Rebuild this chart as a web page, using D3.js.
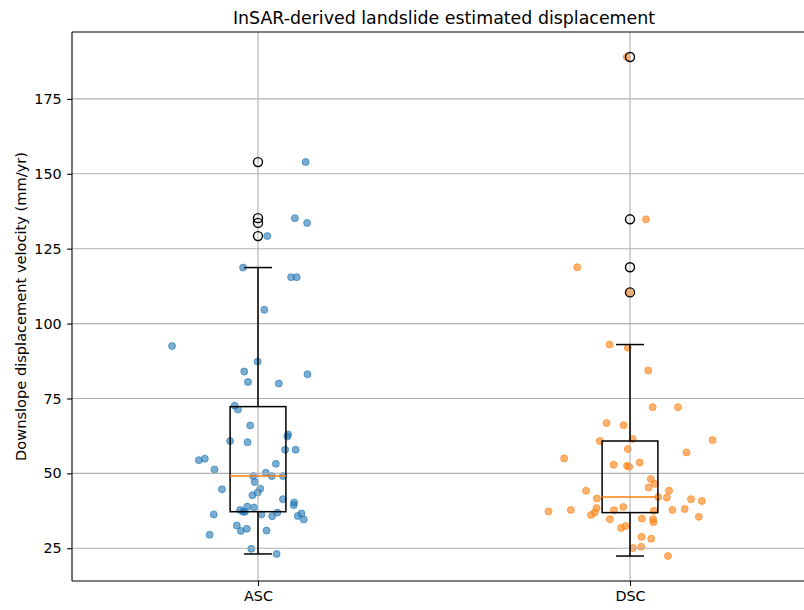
<!DOCTYPE html>
<html><head><meta charset="utf-8">
<script src="https://cdn.jsdelivr.net/npm/d3@7"></script>
<style>body{margin:0;background:#fff}svg{display:block;font-family:"DejaVu Sans",sans-serif}</style>
</head><body><svg id="c" width="804" height="610"></svg>
<script>
const categories = ["ASC", "DSC"];
const seriesColors = ["#1f77b4", "#ff7f0e"];
// values in mm/yr and horizontal jitter offsets (category units)
const ascValues = [92.5,87.3,84.0,83.1,80.5,80.0,72.6,71.3,66.0,63.0,62.3,60.8,60.4,57.9,57.9,54.4,54.9,53.2,51.3,50.2,49.1,49.1,49.1,47.1,44.9,43.6,44.7,42.7,41.4,40.3,39.4,38.9,38.6,37.8,37.2,37.2,36.3,36.9,35.7,36.3,35.8,36.6,34.6,32.6,30.8,31.5,30.9,29.5,24.8,23.1,153.9,135.2,133.6,129.2,118.7,115.5,115.5,104.6];
const ascJitter = [-0.231,-0.001,-0.037,0.133,-0.027,0.056,-0.063,-0.054,-0.021,0.081,0.079,-0.075,-0.028,0.073,0.101,-0.159,-0.143,0.048,-0.117,0.021,-0.013,0.037,0.067,-0.009,0.006,-0.001,-0.097,-0.015,0.067,0.097,0.096,-0.029,-0.011,-0.048,-0.040,-0.035,0.009,0.052,0.038,-0.119,0.107,0.117,0.123,-0.057,-0.046,-0.030,0.023,-0.130,-0.018,0.050,0.128,0.099,0.132,0.025,-0.040,0.089,0.104,0.017];
const dscValues = [189.0,134.8,118.8,110.4,93.0,91.9,84.3,72.1,72.1,66.8,66.1,60.8,61.5,61.1,58.1,55.0,57.0,52.9,52.5,52.2,53.6,48.1,46.5,45.3,44.2,44.2,41.6,42.1,41.9,41.4,40.8,38.4,37.3,37.8,36.9,36.1,37.7,38.8,37.5,37.8,38.1,35.5,34.7,34.9,34.7,33.7,31.8,32.4,28.8,28.2,25.1,25.5,22.4];
const dscJitter = [-0.009,0.043,-0.142,-0.002,-0.055,-0.006,0.049,0.061,0.129,-0.063,-0.017,-0.081,0.007,0.222,-0.006,-0.177,0.152,-0.044,-0.008,-0.002,0.026,0.056,0.067,0.050,0.105,-0.118,-0.089,0.076,0.099,0.164,0.193,-0.090,-0.219,-0.159,-0.095,-0.105,-0.043,-0.018,0.064,0.114,0.147,0.185,-0.054,0.032,0.062,0.063,-0.024,-0.012,0.031,0.057,0.008,0.030,0.102];
const yTicks = [25, 50, 75, 100, 125, 150, 175];
const titleText = "InSAR-derived landslide estimated displacement";
const yLabel = "Downslope displacement velocity (mm/yr)";

const series = [
  {name: categories[0], values: ascValues, jitter: ascJitter, color: seriesColors[0]},
  {name: categories[1], values: dscValues, jitter: dscJitter, color: seriesColors[1]}
];

function boxStats(vals) {
  const s = vals.slice().sort(d3.ascending);
  const q1 = d3.quantile(s, 0.25), med = d3.quantile(s, 0.5), q3 = d3.quantile(s, 0.75);
  const iqr = q3 - q1;
  const lo = d3.min(s.filter(v => v >= q1 - 1.5 * iqr));
  const hi = d3.max(s.filter(v => v <= q3 + 1.5 * iqr));
  const fliers = s.filter(v => v < lo || v > hi);
  return {q1, med, q3, lo, hi, fliers};
}
series.forEach(s => s.stats = boxStats(s.values));

const L = 72, R = 816, T = 32, B = 581;
const allV = series.flatMap(s => s.values);
const [mn, mx] = d3.extent(allV);
const pad = (mx - mn) * 0.05;
const x = d3.scaleLinear().domain([0.5, 2.5]).range([L, R]);
const y = d3.scaleLinear().domain([mn - pad, mx + pad]).range([B, T]);

const svg = d3.select("#c");
const g = svg.append("g");

// scatter (lowest)
series.forEach((s, i) => {
  g.append("g").selectAll("circle").data(s.values).join("circle")
    .attr("cx", (d, j) => x(i + 1 + s.jitter[j]))
    .attr("cy", d => y(d))
    .attr("r", 3.5)
    .attr("fill", s.color).attr("fill-opacity", 0.6)
    .attr("stroke", s.color).attr("stroke-opacity", 0.6).attr("stroke-width", 1);
});

// grid
const grid = g.append("g").attr("stroke", "#b0b0b0").attr("stroke-width", 1.1);
yTicks.forEach(t => grid.append("line").attr("x1", L).attr("x2", R).attr("y1", y(t)).attr("y2", y(t)));
categories.forEach((c, i) => grid.append("line").attr("x1", x(i + 1)).attr("x2", x(i + 1)).attr("y1", T).attr("y2", B));

// boxplots
const bw = 0.15;
series.forEach((s, i) => {
  const st = s.stats, cx = i + 1;
  const bg = g.append("g").attr("fill", "none").attr("stroke", "#000").attr("stroke-width", 1.5);
  bg.append("rect").attr("x", x(cx - bw / 2)).attr("width", x(cx + bw / 2) - x(cx - bw / 2))
    .attr("y", y(st.q3)).attr("height", y(st.q1) - y(st.q3));
  bg.append("line").attr("x1", x(cx)).attr("x2", x(cx)).attr("y1", y(st.q1)).attr("y2", y(st.lo));
  bg.append("line").attr("x1", x(cx)).attr("x2", x(cx)).attr("y1", y(st.q3)).attr("y2", y(st.hi));
  [st.lo, st.hi].forEach(v => bg.append("line").attr("x1", x(cx - bw / 4)).attr("x2", x(cx + bw / 4)).attr("y1", y(v)).attr("y2", y(v)));
  bg.append("line").attr("x1", x(cx - bw / 2)).attr("x2", x(cx + bw / 2)).attr("y1", y(st.med)).attr("y2", y(st.med))
    .attr("stroke", "#ff7f0e");
  bg.selectAll("circle.f").data(st.fliers).join("circle").attr("class", "f")
    .attr("cx", x(cx)).attr("cy", d => y(d)).attr("r", 4.5).attr("stroke-width", 1.4);
});

// axes
const yAxis = d3.axisLeft(y).tickValues(yTicks).tickSize(4.9).tickPadding(5.5);
const ya = svg.append("g").attr("transform", `translate(${L},0)`).call(yAxis);
const xAxis = d3.axisBottom(x).tickValues([1, 2]).tickFormat((d) => categories[d - 1]).tickSize(4.9).tickPadding(4.5);
const xa = svg.append("g").attr("transform", `translate(0,${B})`).call(xAxis);
[ya, xa].forEach(a => {
  a.select(".domain").remove();
  a.selectAll("text").attr("font-size", 14.3).attr("font-family", "DejaVu Sans").attr("fill", "#000");
  a.selectAll("line").attr("stroke", "#000").attr("stroke-width", 1.1);
});
// spines
const sp = svg.append("g").attr("stroke", "#000").attr("stroke-width", 1.1);
sp.append("line").attr("x1", L).attr("x2", L).attr("y1", T).attr("y2", B);
sp.append("line").attr("x1", L).attr("x2", R).attr("y1", B).attr("y2", B);
sp.append("line").attr("x1", L).attr("x2", R).attr("y1", T).attr("y2", T);
sp.append("line").attr("x1", R).attr("x2", R).attr("y1", T).attr("y2", B);

svg.append("text").attr("x", (L + R) / 2).attr("y", 24).attr("text-anchor", "middle")
  .attr("font-size", 17.4).text(titleText);
svg.append("text").attr("transform", `translate(25.5,${(T + B) / 2}) rotate(-90)`).attr("text-anchor", "middle")
  .attr("font-size", 14.6).text(yLabel);
</script></body></html>
